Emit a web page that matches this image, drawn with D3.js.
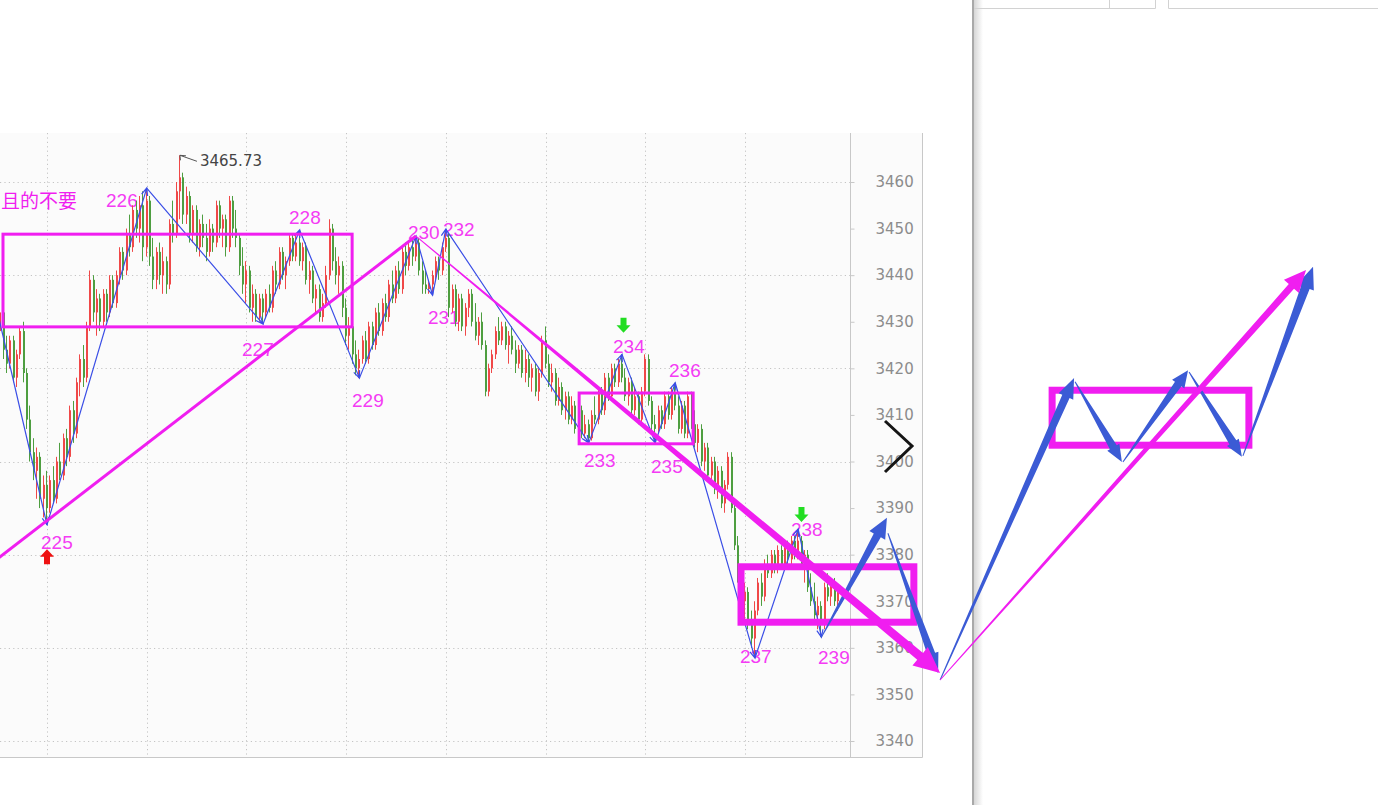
<!DOCTYPE html>
<html><head><meta charset="utf-8">
<script src="https://cdn.jsdelivr.net/npm/d3@7"></script>
<style>html,body{margin:0;padding:0;background:#fff;overflow:hidden}svg{display:block}</style>
</head><body>
<svg id="c" width="1378" height="805"></svg>
<script>
// ---------------- DATA ----------------
// candles: [open, high, low, close] per bar (bar index 0..252)
const candles = [
[3428,3435,3425,3432],[3432,3433,3422,3424],[3424,3427,3419,3421],[3421,3427,3420,3426],[3426,3427,3417,3418],
[3418,3424,3416,3423],[3423,3429,3422,3428],[3428,3430,3417,3419],[3419,3420,3407,3409],[3409,3412,3400,3402],
[3402,3405,3396,3398],[3398,3403,3392,3401],[3401,3402,3390,3392],[3392,3397,3388,3395],[3395,3398,3386.4,3390],
[3390,3397,3389,3396],[3396,3399,3391,3392],[3392,3401,3391,3400],[3400,3404,3396,3397],[3397,3406,3396,3405],
[3405,3407,3399,3401],[3401,3412,3400,3411],[3411,3413,3404,3406],[3406,3418,3405,3417],[3417,3423,3414,3422],
[3422,3425,3416,3418],[3418,3430,3417,3429],[3429,3441,3428,3439],[3439,3440,3430,3432],[3432,3437,3427,3435],
[3435,3436,3428,3430],[3430,3437,3429,3436],[3436,3437,3430,3432],[3432,3440,3431,3439],[3439,3440,3433,3434],
[3434,3441,3433,3440],[3440,3446,3438,3445],[3445,3446,3439,3441],[3441,3450,3440,3449],[3449,3453,3444,3446],
[3446,3455,3445,3454],[3454,3456,3448,3450],[3450,3457,3447,3455],[3455,3458,3443,3446],[3446,3458.7,3444,3456],
[3456,3457,3442,3444],[3444,3448,3437,3439],[3439,3446,3437,3445],[3445,3447,3438,3440],[3440,3446,3436,3443],
[3443,3444,3436,3438],[3438,3452,3437,3451],[3451,3456,3447,3449],[3449,3460,3448,3458],[3458,3465.73,3452,3461],
[3461,3462,3451,3453],[3453,3459,3451,3457],[3457,3458,3447,3449],[3449,3455,3447,3454],[3454,3455,3445,3446],
[3446,3452,3444,3451],[3451,3453,3446,3448],[3448,3451,3443,3445],[3445,3452,3444,3450],[3450,3451,3445,3447],
[3447,3456,3446,3455],[3455,3456,3448,3450],[3450,3453,3446,3452],[3452,3453,3444,3446],[3446,3457,3445,3456],
[3456,3457,3448,3450],[3450,3454,3446,3448],[3448,3449,3440,3442],[3442,3446,3436,3438],[3438,3443,3434,3441],
[3441,3442,3432,3433],[3433,3438,3430,3436],[3436,3437,3430,3431],[3431,3436,3430,3435],[3435,3436,3429.5,3432],
[3432,3437,3431,3436],[3436,3438,3432,3433],[3433,3442,3432,3441],[3441,3443,3436,3438],[3438,3446,3437,3445],
[3445,3446,3439,3440],[3440,3444,3437,3443],[3443,3449,3442,3448],[3448,3449,3443,3444],[3444,3449,3443,3447],
[3447,3449.7,3442,3443],[3443,3447,3441,3446],[3446,3447,3438,3439],[3439,3443,3436,3441],[3441,3442,3434,3435],
[3435,3438,3432,3437],[3437,3438,3430,3431],[3431,3436,3430,3434],[3434,3442,3433,3440],[3440,3452,3439,3450],
[3450,3451,3441,3443],[3443,3446,3438,3440],[3440,3444,3436,3442],[3442,3443,3431,3433],[3433,3435,3425,3427],
[3427,3431,3424,3429],[3429,3430,3421,3423],[3423,3426,3418.5,3420],[3420,3424,3417.9,3422],[3422,3427,3421,3426],
[3426,3428,3421,3422],[3422,3430,3421,3429],[3429,3430,3424,3425],[3425,3433,3424,3432],[3432,3434,3427,3428],
[3428,3435,3427,3434],[3434,3436,3430,3431],[3431,3439,3430,3438],[3438,3441,3434,3435],[3435,3442,3434,3441],
[3441,3443,3436,3437],[3437,3446,3436,3445],[3445,3447,3440,3442],[3442,3447,3441,3446],[3446,3448,3442,3444],
[3444,3448.4,3443,3447],[3447,3448,3440,3441],[3441,3443,3436,3438],[3438,3441,3436,3437],[3437,3439,3436,3438],
[3438,3441,3435.7,3440],[3440,3444,3439,3443],[3443,3444,3439,3441],[3441,3447,3440,3446],[3446,3449.9,3445,3448],
[3448,3449,3431,3433],[3433,3438,3432,3437],[3437,3438,3429,3430],[3430,3436,3428,3435],[3435,3436,3428,3429],
[3429,3434,3427,3433],[3433,3437,3431,3436],[3436,3437,3429,3430],[3430,3434,3426,3427],[3427,3431,3425,3430],
[3430,3432,3424,3425],[3425,3426,3414,3415],[3415,3421,3414,3420],[3420,3424,3419,3423],[3423,3429,3422,3428],
[3428,3431,3425,3426],[3426,3430,3425,3429],[3429,3430,3424,3425],[3425,3428,3421,3427],[3427,3429,3423,3424],
[3424,3426,3419,3421],[3421,3425,3420,3424],[3424,3425,3418,3419],[3419,3424,3417,3422],[3422,3423,3416,3418],
[3418,3421,3415,3420],[3420,3421,3414,3415],[3415,3420,3413,3419],[3419,3427,3418,3426],[3426,3429,3420,3421],
[3421,3423,3416,3417],[3417,3421,3415,3419],[3419,3420,3412,3413],[3413,3418,3412,3416],[3416,3417,3410,3411],
[3411,3415,3409,3414],[3414,3415,3408,3409],[3409,3414,3408,3412],[3412,3413,3406,3407],[3407,3413,3406,3411],
[3411,3412,3405,3406],[3406,3410,3405,3408],[3408,3409,3404,3405],[3405,3411,3404.5,3410],[3410,3414,3408,3409],
[3409,3416,3408,3415],[3415,3416,3410,3411],[3411,3419,3410,3418],[3418,3419,3413,3414],[3414,3421,3413,3420],
[3420,3421,3416,3417],[3417,3422,3416,3421],[3421,3423,3417,3418],[3418,3420,3413,3414],[3414,3418,3412,3417],
[3417,3418,3410,3411],[3411,3416,3410,3414],[3414,3415,3408,3409],[3409,3416,3408,3415],[3415,3423,3414,3422],
[3422,3423,3412,3413],[3413,3414,3406,3408],[3408,3410,3404,3407],[3407,3412,3406,3411],[3411,3412,3407,3408],
[3408,3415,3407,3414],[3414,3415,3409,3410],[3410,3416,3409,3415],[3415,3416.9,3411,3412],[3412,3414,3406,3407],
[3407,3413,3406,3412],[3412,3413,3405,3406],[3406,3415,3405,3414],[3414,3415,3407,3408],[3408,3411,3403,3404],
[3404,3408,3402,3407],[3407,3408,3399,3400],[3400,3404,3398,3403],[3403,3404,3396,3397],[3397,3401,3395,3400],
[3400,3401,3393,3394],[3394,3399,3392,3398],[3398,3399,3390,3391],[3391,3396,3389,3395],[3395,3402,3394,3401],
[3401,3402,3389,3390],[3390,3392,3381,3382],[3382,3384,3374,3375],[3375,3378,3368,3370],[3370,3374,3366,3372],
[3372,3373,3364,3365],[3365,3368,3360,3362],[3362,3370,3357.8,3368],[3368,3375,3367,3374],[3374,3376,3369,3371],
[3371,3379,3370,3378],[3378,3380,3375,3376],[3376,3381,3375,3380],[3380,3381,3376,3377],[3377,3382,3376,3381],
[3381,3382,3377,3378],[3378,3383,3377,3382],[3382,3383,3378,3379],[3379,3384,3378,3383],[3383,3384,3379,3380],
[3380,3385.5,3379,3383],[3383,3384,3377,3378],[3378,3381,3374,3380],[3380,3381,3372,3373],[3373,3376,3369,3370],
[3370,3374,3366,3367],[3367,3371,3364,3369],[3369,3370,3362.3,3365],[3365,3374,3364,3373],[3373,3376,3370,3371],
[3371,3375,3369,3374],[3374,3375,3369,3370],[3370,3373,3368,3372]
];

// zigzag pivots
const pivotNames = ["224","225","226","227","228","229","230","231","232","233","234","235","236","237","238","239"];
const pivotIndex = [-3,14,44,79,90,108,125,130,134,177,187,197,203,227,240,247];
const pivotPrice = [3438.5,3386.4,3458.7,3429.5,3449.7,3417.9,3448.4,3435.7,3449.9,3404,3423,3404,3416.9,3357.8,3385.5,3362.3];

// signals (arrows at pivots)
const signalPivot = ["225","234","238"];
const signalDir = ["up","down","down"];

// highest price marker
const highIndex = 54;
const highPrice = 3465.73;

// axis ticks
const priceTicks = [3340,3350,3360,3370,3380,3390,3400,3410,3420,3430,3440,3450,3460];
const gridPrices = [3340,3360,3380,3400,3420,3440,3460];
const gridBars = [14,44,74,104,134,164,194,224];

// hand-drawn annotations (bar index, price)
const trendStart = [-2,3378.5], trendEnd = [125,3448.4];
const boxBars = [[0.76,105.8],[174.1,208.4],[222.8,274.8],[316.4,375.6]];
const boxPrices = [[3448.8,3428.9],[3414.7,3403.8],[3377.4,3365.5],[3415.3,3403.5]];
const blueArrowStart = [[247,3362.3],[267.0,3384.6],[282.7,3353.1],[323.3,3417.1],[337.7,3399.9],[357.6,3419.2],[373.8,3401.2]];
const blueArrowEnd   = [[266.7,3387.9],[282.1,3354.6],[323.0,3417.9],[337.4,3399.9],[357.3,3419.6],[373.5,3401.0],[394.9,3441.8]];
const magentaArrowStart = [[125,3448.4],[282.7,3353.1]];
const magentaArrowEnd   = [[282.7,3354.6],[392.8,3441.1]];
const noteText = "且的不要";

// ---------------- LAYOUT / STYLE ----------------
const plotTop = 133, plotBottom = 757, plotRight = 850, panelRight = 922;
// label pixel nudges relative to pivot [dx, dy]
const labelNudge = {"225":[-6,24.6],"226":[-40.7,19.4],"227":[-21,32.4],"228":[-10.6,-5.5],"229":[-7.4,28.4],
 "230":[-8,2.5],"231":[-4.6,29.3],"232":[-2.9,6.5],"233":[-4.8,24.6],"234":[-9,-0.9],"235":[-4.2,30.6],
 "236":[-6.2,-5.3],"237":[-15,5.4],"238":[-7.2,6.5],"239":[-3.4,26.4]};
const signalNudge = {"225":[0,32],"234":[1.5,-29],"238":[3.3,-14.5]};
const boxStroke = [3,3,7,7];
const blueArrowStyle = [[1,8,20,18],[1,8,20,15],[1,8,20,16],[1,8,17,14],[1,8,17,15],[1,8,17,14],[1,9,22,18]];
const magentaArrowStyle = [[1,9,26,24],[1,7,22,20]];
const MAG = "#f01ef0", BLUE = "#3b5bd5", ZZ = "#3a4ee6", RED = "#f04848", GREEN = "#4e9e40";

const x = d3.scaleLinear().domain([14,224]).range([47,745]);
const y = d3.scaleLinear().domain([3340,3460]).range([741,182]);

const svg = d3.select("#c");
const defs = svg.append("defs");
defs.append("clipPath").attr("id","plotclip").append("rect")
  .attr("x",-20).attr("y",plotTop).attr("width",plotRight+20).attr("height",plotBottom-plotTop);
const grad = defs.append("linearGradient").attr("id","shadow").attr("x1",0).attr("x2",1).attr("y1",0).attr("y2",0);
grad.append("stop").attr("offset",0).attr("stop-color","#d6d6d6");
grad.append("stop").attr("offset",1).attr("stop-color","#ffffff");

// page chrome (behind annotations): separator, table edges
svg.append("rect").attr("x",974).attr("y",0).attr("width",9).attr("height",805).attr("fill","url(#shadow)");
svg.append("rect").attr("x",972).attr("y",0).attr("width",2).attr("height",805).attr("fill","#a9a9a9");
svg.append("path").attr("d","M974,8.5H1155.5V0M1109.5,0V8.5M1168.5,0V8.5H1378").attr("fill","none").attr("stroke","#d2d2d2");

// panel background
svg.append("rect").attr("x",-1).attr("y",plotTop).attr("width",panelRight+1).attr("height",plotBottom-plotTop).attr("fill","#fbfbfb");
svg.append("path").attr("d",`M${panelRight+0.5},${plotTop}V${plotBottom+0.5}H0`).attr("fill","none").attr("stroke","#c8c8c8");
svg.append("line").attr("x1",plotRight+0.5).attr("x2",plotRight+0.5).attr("y1",plotTop).attr("y2",plotBottom).attr("stroke","#c8c8c8");

// grid
const grid = svg.append("g").attr("stroke","#c4c4c4").attr("stroke-dasharray","1.2,3.2");
grid.selectAll(".h").data(gridPrices).join("line")
  .attr("x1",0).attr("x2",plotRight).attr("y1",d=>Math.round(y(d))+0.5).attr("y2",d=>Math.round(y(d))+0.5);
grid.selectAll(".v").data(gridBars).join("line")
  .attr("y1",plotTop).attr("y2",plotBottom).attr("x1",d=>Math.round(x(d))+0.5).attr("x2",d=>Math.round(x(d))+0.5);

// axis
const axis = d3.axisRight(y).tickValues(priceTicks).tickSizeInner(4).tickSizeOuter(0).tickPadding(21).tickFormat(d3.format("d"));
const ag = svg.append("g").attr("transform",`translate(${plotRight+0.5},0)`).call(axis);
ag.select(".domain").remove();
ag.selectAll(".tick line").attr("stroke","#c8c8c8");
ag.selectAll(".tick text").attr("fill","#8c8c8c").attr("font-family","'DejaVu Sans',sans-serif").attr("font-size",15);

const plot = svg.append("g").attr("clip-path","url(#plotclip)");

// note text
plot.append("text").attr("x",1).attr("y",208).attr("fill",MAG)
  .attr("font-family","'Noto Sans CJK SC',sans-serif").attr("font-size",19).text(noteText);

// pivot labels (under candles)
const pivots = pivotNames.map((n,k)=>({name:n,i:pivotIndex[k],p:pivotPrice[k]}));
plot.append("g").selectAll("text").data(pivots.filter(d=>labelNudge[d.name])).join("text")
  .attr("x",d=>x(d.i)+labelNudge[d.name][0]).attr("y",d=>y(d.p)+labelNudge[d.name][1])
  .attr("fill","#f43cf4").attr("font-family","'Liberation Sans',Arial,sans-serif").attr("font-size",19)
  .text(d=>d.name);

// candles
const cg = plot.append("g");
candles.forEach((c,i)=>{
  const [o,h,l,cl] = c;
  const col = cl>=o ? RED : GREEN;
  const cx = Math.round(x(i));
  cg.append("rect").attr("x",cx-1).attr("width",1).attr("y",y(h)).attr("height",Math.max(1,y(l)-y(h))).attr("fill",col);
  const top = y(Math.max(o,cl)), bot = y(Math.min(o,cl));
  cg.append("rect").attr("x",cx-1).attr("width",2).attr("y",top).attr("height",Math.max(1,bot-top)).attr("fill",col);
});

// highest marker
{
  const hx = x(highIndex), hy = y(highPrice);
  plot.append("path").attr("d",`M${hx+17},${hy+6}L${hx},${hy}M${hx},${hy}l6,0.5M${hx},${hy}l0.5,5`)
    .attr("stroke","#555").attr("fill","none").attr("stroke-width",1);
  plot.append("text").attr("x",hx+20).attr("y",hy+11).attr("fill","#444")
    .attr("font-family","'DejaVu Sans',sans-serif").attr("font-size",15).text(highPrice.toFixed(2));
}

// zigzag with small arrowheads
const zz = plot.append("g").attr("stroke",ZZ).attr("stroke-width",1.2).attr("fill","none");
for(let k=1;k<pivots.length;k++){
  const a=pivots[k-1], b=pivots[k];
  const x0=x(a.i),y0=y(a.p),x1=x(b.i),y1=y(b.p);
  const ang=Math.atan2(y1-y0,x1-x0), L=8, sp=0.4;
  const h1=[x1-L*Math.cos(ang-sp),y1-L*Math.sin(ang-sp)], h2=[x1-L*Math.cos(ang+sp),y1-L*Math.sin(ang+sp)];
  zz.append("path").attr("d",`M${x0},${y0}L${x1},${y1}M${h1[0]},${h1[1]}L${x1},${y1}L${h2[0]},${h2[1]}`);
}

// signal arrows
const sg = plot.append("g");
signalPivot.forEach((n,k)=>{
  const pv = pivots.find(d=>d.name===n);
  const cx = x(pv.i)+signalNudge[n][0], cy = y(pv.p)+signalNudge[n][1];
  const d = signalDir[k]==="down"
    ? `M${cx-3},${cy-7.5}H${cx+3}V${cy}H${cx+7}L${cx},${cy+7.5}L${cx-7},${cy}H${cx-3}Z`
    : `M${cx-3},${cy+7.5}H${cx+3}V${cy}H${cx+7}L${cx},${cy-7.5}L${cx-7},${cy}H${cx-3}Z`;
  sg.append("path").attr("d",d).attr("fill",signalDir[k]==="down"?"#22dd22":"#ee1111");
});

// trend line
plot.append("line").attr("x1",x(trendStart[0])).attr("y1",y(trendStart[1])).attr("x2",x(trendEnd[0])).attr("y2",y(trendEnd[1]))
  .attr("stroke",MAG).attr("stroke-width",3);

// tapered arrow
function arrowPath(p0,p1,w0,w1,hl,hw){
  const dx=p1[0]-p0[0], dy=p1[1]-p0[1], L=Math.hypot(dx,dy), ux=dx/L, uy=dy/L, nx=-uy, ny=ux;
  const bx=p1[0]-ux*hl, by=p1[1]-uy*hl;
  const pts=[[p0[0]+nx*w0/2,p0[1]+ny*w0/2],[bx+nx*w1/2,by+ny*w1/2],[bx+nx*hw/2,by+ny*hw/2],[p1[0],p1[1]],
    [bx-nx*hw/2,by-ny*hw/2],[bx-nx*w1/2,by-ny*w1/2],[p0[0]-nx*w0/2,p0[1]-ny*w0/2]];
  return "M"+pts.map(p=>p[0].toFixed(2)+","+p[1].toFixed(2)).join("L")+"Z";
}
const px = d=>[x(d[0]),y(d[1])];

// boxes
const bg = svg.append("g").attr("fill","none").attr("stroke",MAG);
boxBars.forEach((b,k)=>{
  const x0=x(b[0]),x1=x(b[1]),y0=y(boxPrices[k][0]),y1=y(boxPrices[k][1]);
  bg.append("rect").attr("x",x0).attr("y",y0).attr("width",x1-x0).attr("height",y1-y0).attr("stroke-width",boxStroke[k]);
});

// blue projection arrows
blueArrowStart.forEach((s,k)=>{
  const st=blueArrowStyle[k];
  svg.append("path").attr("d",arrowPath(px(s),px(blueArrowEnd[k]),st[0],st[1],st[2],st[3])).attr("fill",BLUE);
});
// magenta arrows
magentaArrowStart.forEach((s,k)=>{
  const st=magentaArrowStyle[k];
  svg.append("path").attr("d",arrowPath(px(s),px(magentaArrowEnd[k]),st[0],st[1],st[2],st[3])).attr("fill",MAG);
});

// next-page chevron
svg.append("path").attr("d","M885,421L912,446L885,472").attr("fill","none").attr("stroke","#151515").attr("stroke-width",3);
</script>
</body></html>
